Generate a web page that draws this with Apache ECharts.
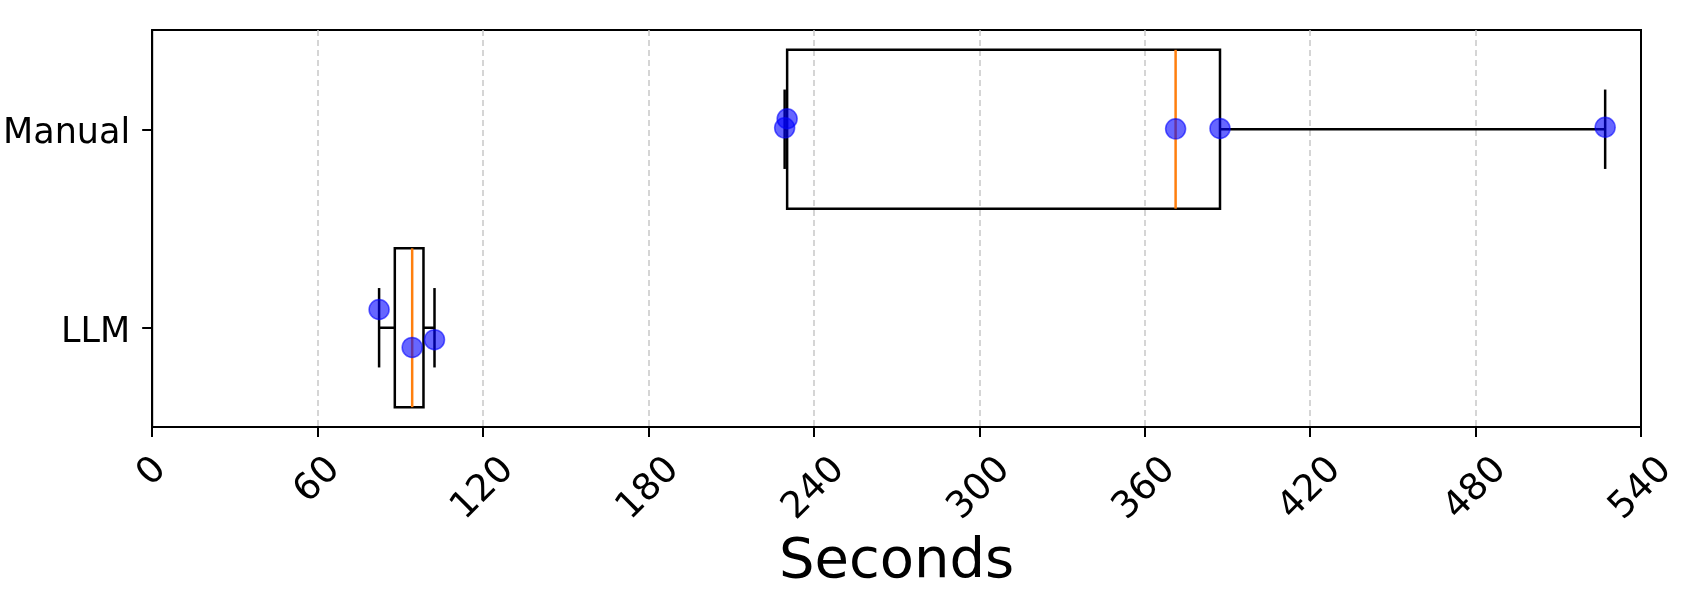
<!DOCTYPE html>
<html>
<head>
<meta charset="utf-8">
<script src="https://cdn.jsdelivr.net/npm/echarts@6/dist/echarts.min.js"></script>
<style>
  html, body { margin: 0; padding: 0; background: #fff; }
  #chart { width: 1700px; height: 600px; }
</style>
</head>
<body>
<div id="chart"></div>
<script>
// categories, bottom to top
var categories = ['LLM', 'Manual'];

// box stats: [min, q1, median, q3, max]
var llmStats = [82.3, 88.0, 94.3, 98.4, 102.4];
var manualStats = [229.4, 230.3, 371.2, 387.3, 527.0];

// raw points (seconds) and their vertical jitter (in category units)
var llmPoints = [82.3, 94.3, 102.4];
var llmJitter = [0.092, -0.099, -0.06];
var manualPoints = [229.4, 230.3, 371.2, 387.3, 527.0];
var manualJitter = [0.007, 0.053, 0.002, 0.004, 0.01];

var xTicks = [0, 60, 120, 180, 240, 300, 360, 420, 480, 540];

function boxData() {
    return [
        [0].concat(llmStats),
        [1].concat(manualStats)
    ];
}

function pointData() {
    var out = [];
    llmPoints.forEach(function (v, i) { out.push([v, 0 + llmJitter[i]]); });
    manualPoints.forEach(function (v, i) { out.push([v, 1 + manualJitter[i]]); });
    return out;
}

// draw one matplotlib-style box: black box, orange median, half-width caps
function renderBox(params, api) {
    var cat = api.value(0);
    var pMin = api.coord([api.value(1), cat]);
    var pQ1 = api.coord([api.value(2), cat]);
    var pMed = api.coord([api.value(3), cat]);
    var pQ3 = api.coord([api.value(4), cat]);
    var pMax = api.coord([api.value(5), cat]);
    var band = api.size([0, 1])[1];
    var half = band * 0.4;
    var cap = half / 2;
    var y = pMed[1];
    var black = { stroke: '#000', lineWidth: 2.5, fill: null };
    return {
        type: 'group',
        children: [
            { type: 'line', shape: { x1: pMin[0], y1: y, x2: pQ1[0], y2: y }, style: black },
            { type: 'line', shape: { x1: pQ3[0], y1: y, x2: pMax[0], y2: y }, style: black },
            { type: 'line', shape: { x1: pMin[0], y1: y - cap, x2: pMin[0], y2: y + cap }, style: black },
            { type: 'line', shape: { x1: pMax[0], y1: y - cap, x2: pMax[0], y2: y + cap }, style: black },
            { type: 'rect', shape: { x: pQ1[0], y: y - half, width: pQ3[0] - pQ1[0], height: half * 2 }, style: black },
            { type: 'line', shape: { x1: pMed[0], y1: y - half, x2: pMed[0], y2: y + half },
              style: { stroke: '#ff7f0e', lineWidth: 2.5 } }
        ]
    };
}

// rotated tick labels are centred like matplotlib: shorter labels sit closer to the axis
function tickLabel(v) {
    var s = String(v);
    if (s.length === 1) return '{d1|' + s + '}';
    if (s.length === 2) return '{d2|' + s + '}';
    return '{d3|' + s + '}';
}

function initChart(targetId) {
    var myChart = echarts.init(document.getElementById(targetId));
    myChart.setOption(optionConfig());
}

function optionConfig() {
    var font = 'DejaVu Sans';
    var lab = { fontSize: 37, color: '#000', fontFamily: font };
    return {
        animation: false,
        backgroundColor: '#fff',
        textStyle: { fontFamily: font },
        grid: {
            left: 150, right: 59, top: 30, bottom: 173,
            show: true, borderColor: '#000', borderWidth: 2, backgroundColor: 'transparent'
        },
        xAxis: {
            type: 'value',
            min: xTicks[0],
            max: xTicks[xTicks.length - 1],
            interval: 60,
            name: 'Seconds',
            nameLocation: 'middle',
            nameGap: 106,
            nameTextStyle: { fontSize: 56, color: '#000', fontFamily: font },
            axisLine: { show: true, onZero: false, lineStyle: { color: '#000', width: 2 } },
            axisTick: { show: true, inside: false, length: 10, lineStyle: { color: '#000', width: 2 } },
            axisLabel: {
                rotate: 45, fontSize: 37, color: '#000', fontFamily: font,
                align: 'center', verticalAlign: 'middle', margin: 62,
                formatter: tickLabel,
                rich: {
                    d1: Object.assign({ padding: [0, 0, 24, 24] }, lab),
                    d2: Object.assign({ padding: [0, 0, 12, 12] }, lab),
                    d3: Object.assign({}, lab)
                }
            },
            splitLine: {
                show: true, showMinLine: false, showMaxLine: false,
                lineStyle: { color: '#c8c8c8', width: 1.5, type: [6, 4] }
            }
        },
        yAxis: [{
            type: 'category',
            data: categories,
            axisLine: { show: true, onZero: false, lineStyle: { color: '#000', width: 2 } },
            axisTick: { show: true, alignWithLabel: true, length: 10, lineStyle: { color: '#000', width: 2 } },
            axisLabel: {
                color: '#000', fontFamily: font, margin: 22,
                formatter: function (v) { return '{c|' + v + '}'; },
                rich: { c: { fontSize: 35, color: '#000', fontFamily: font, padding: [10, 0, 0, 0] } }
            },
            splitLine: { show: false }
        }, {
            type: 'value',
            min: -0.5,
            max: 1.5,
            show: false
        }],
        series: [{
            type: 'custom',
            yAxisIndex: 0,
            renderItem: renderBox,
            data: boxData(),
            encode: { x: [1, 2, 3, 4, 5], y: 0 },
            z: 2
        }, {
            type: 'scatter',
            yAxisIndex: 1,
            data: pointData(),
            symbolSize: 20,
            itemStyle: {
                color: 'rgba(0,0,255,0.6)',
                borderColor: 'rgba(0,0,255,0.6)',
                borderWidth: 1.5,
                opacity: 1
            },
            z: 5
        }]
    };
}

initChart('chart');
</script>
</body>
</html>
